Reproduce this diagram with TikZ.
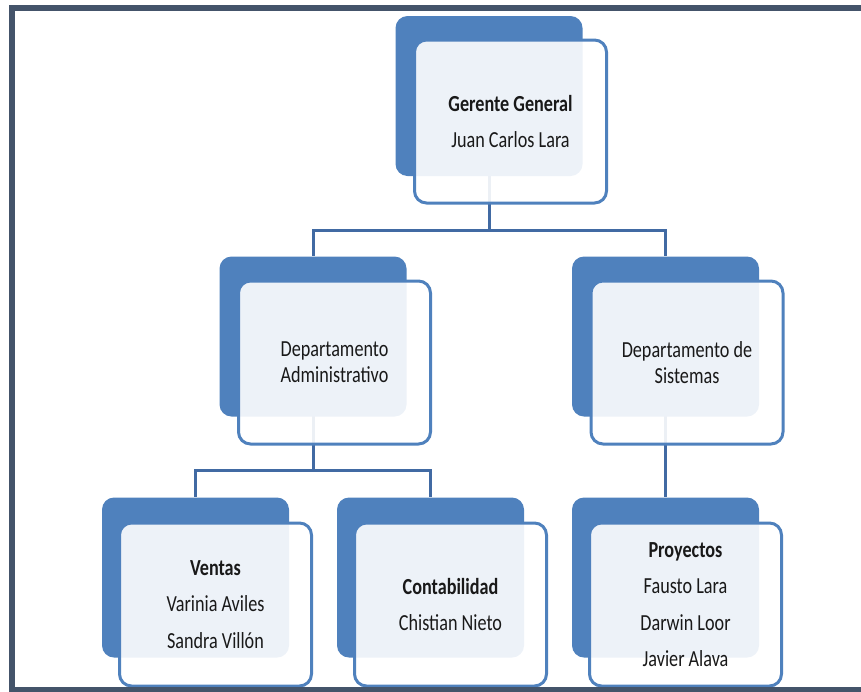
\documentclass[tikz,border=0pt]{standalone}
\usepackage{fontspec}
\setmainfont{Carlito}[FakeStretch=0.79]
\usetikzlibrary{calc,backgrounds}
\definecolor{boxblue}{RGB}{79,129,189}
\definecolor{lineblue}{RGB}{65,106,163}
\definecolor{frame}{RGB}{68,84,106}

\tikzset{
  backbox/.style={rectangle,rounded corners=12pt,fill=boxblue,draw=none,
    minimum width=187pt,minimum height=160pt,inner sep=0pt},
  frontbox/.style={rectangle,rounded corners=12pt,draw=boxblue,line width=3pt,
    fill=white,fill opacity=0.9,text opacity=1,text=black!90,align=center,
    minimum width=192pt,minimum height=163pt,inner sep=0pt,
    font=\fontsize{23}{26}\selectfont},
  link/.style={lineblue,line width=3pt}
}

\begin{document}
\begin{tikzpicture}[x=1pt,y=-1pt]
        \useasboundingbox (0,0) rectangle (861,691);
        % back boxes
        \node[backbox] (gerB) at (489,96) {};
        \node[backbox] (admB) at (313,336.5) {};
        \node[backbox] (sisB) at (665.5,336.5) {};
        \node[backbox] (venB) at (195.5,577.5) {};
        \node[backbox] (conB) at (430.5,577.5) {};
        \node[backbox] (proB) at (665.5,577.5) {};
        % front boxes
        \node[frontbox] (ger) at ($(gerB)+(21.5,25.5)$) {\textbf{Gerente General}\\[10.5pt]Juan Carlos Lara};
        \node[frontbox] (adm) at ($(admB)+(21.5,26)$) {Departamento\\Administrativo};
        \node[frontbox] (sis) at ($(sisB)+(21.5,26)$) {Departamento de\\Sistemas};
        \node[frontbox] (ven) at ($(venB)+(20,27)$) {\textbf{Ventas}\\[10.5pt]Varinia Aviles\\[10.5pt]Sandra Villón};
        \node[frontbox] (con) at ($(conB)+(20,27)$) {\textbf{Contabilidad}\\[10.5pt]Chistian Nieto};
        \node[frontbox] (pro) at ($(proB)+(20,27)$) {\textbf{Proyectos}\\[10.5pt]Fausto Lara\\[10.5pt]Darwin Loor\\[10.5pt]Javier Alava};
        % connectors
        \coordinate (bus1) at (489,230);
        \coordinate (bus2) at (313,470);
        \begin{pgfonlayer}{background}
        \draw[link] (gerB.center) -- (bus1) -| (admB.north);
        \draw[link] (bus1) -| (sisB.north);
        \draw[link] (admB.center) -- (bus2) -| (venB.north);
        \draw[link] (bus2) -| (conB.north);
        \draw[link] (sisB.center) -- (proB.north);
        \end{pgfonlayer}
        % frame
        \draw[frame,line width=5.5pt] (861,8) -- (12,8) -- (12,689.5) -- (861,689.5);
    \end{tikzpicture}
\end{document}
